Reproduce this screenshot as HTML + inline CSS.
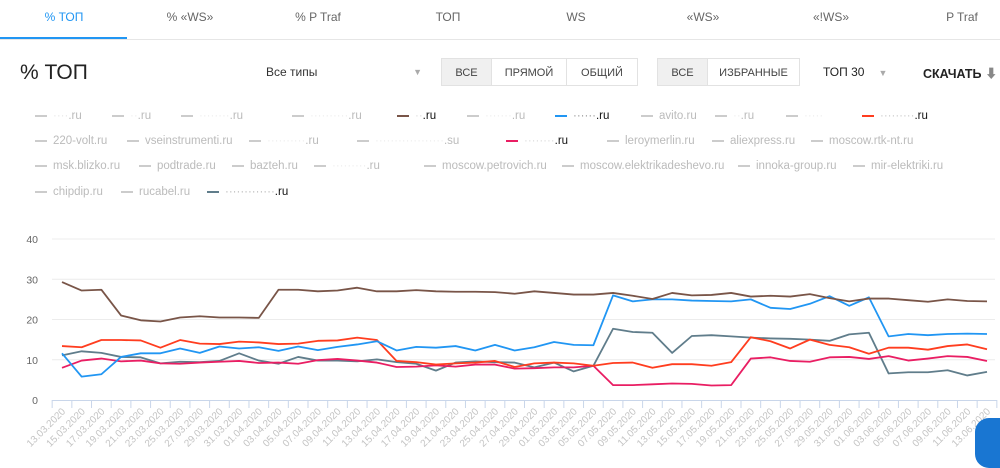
<!DOCTYPE html>
<html><head><meta charset="utf-8"><style>
body{margin:0;width:1000px;height:453px;overflow:hidden;background:#fff;font-family:"Liberation Sans","Noto Sans CJK SC",sans-serif;position:relative}
.tab{position:absolute;top:10px;width:128px;text-align:center;font-size:12px;color:#666}
.btn{position:absolute;top:58px;height:28px;line-height:28px;font-size:11px;color:#444;text-align:center;border:1px solid #e2e2e2;box-sizing:border-box}
.lg{position:absolute;font-size:11.5px;color:#bbb;white-space:nowrap}
.lg i{display:inline-block;width:12px;height:2px;background:#ccc;vertical-align:middle;margin-right:6px}
</style></head><body>
<div>
<div class="tab" style="left:0;color:#2196f3">% ТОП</div>
<div class="tab" style="left:126px">% «WS»</div>
<div class="tab" style="left:254px">% P Traf</div>
<div class="tab" style="left:384px">ТОП</div>
<div class="tab" style="left:512px">WS</div>
<div class="tab" style="left:639px">«WS»</div>
<div class="tab" style="left:767px">«!WS»</div>
<div class="tab" style="left:898px">P Traf</div>
<div style="position:absolute;left:0;top:37px;width:127px;height:2px;background:#2196f3"></div>
<div style="position:absolute;left:0;top:39px;width:1000px;height:1px;background:#e6e6e6"></div>
</div>
<div style="position:absolute;left:20px;top:61px;font-size:21px;color:#222">% ТОП</div>
<div style="position:absolute;left:266px;top:65px;width:156px;font-size:12px;color:#333">Все типы<span style="position:absolute;right:0;color:#aaa;font-size:9px;top:2px">▼</span></div>
<div class="btn" style="left:441px;width:51px;background:#f0f0f0">ВСЕ</div>
<div class="btn" style="left:491px;width:76px">ПРЯМОЙ</div>
<div class="btn" style="left:566px;width:72px">ОБЩИЙ</div>
<div class="btn" style="left:657px;width:51px;background:#f0f0f0">ВСЕ</div>
<div class="btn" style="left:707px;width:93px">ИЗБРАННЫЕ</div>
<div style="position:absolute;left:823px;top:65px;font-size:12px;color:#222">ТОП 30<span style="color:#aaa;font-size:9px;margin-left:14px">▼</span></div>
<div style="position:absolute;left:923px;top:63px;font-size:12.5px;font-weight:bold;color:#222">СКАЧАТЬ <span style="color:#888">⬇</span></div>

<div>
<div class="lg" style="left:35px;top:110px"><i></i><span style="color:#e8e8e8">····</span>.ru</div>
<div class="lg" style="left:112px;top:110px"><i></i><span style="color:#eee">··</span>.ru</div>
<div class="lg" style="left:181px;top:110px"><i></i><span style="color:#eee">········</span>.ru</div>
<div class="lg" style="left:292px;top:110px"><i></i><span style="color:#eee">··········</span>.ru</div>
<div class="lg" style="left:397px;top:110px;color:#111"><i style="background:#795548"></i><span style="color:#ddd">··</span>.ru</div>
<div class="lg" style="left:467px;top:110px"><i></i><span style="color:#eee">·······</span>.ru</div>
<div class="lg" style="left:555px;top:110px;color:#111"><i style="background:#2196f3"></i><span style="color:#999">······</span>.ru</div>
<div class="lg" style="left:641px;top:110px"><i></i>avito.ru</div>
<div class="lg" style="left:715px;top:110px"><i></i><span style="color:#eee">··</span>.ru</div>
<div class="lg" style="left:786px;top:110px"><i></i><span style="color:#eee">·····</span></div>
<div class="lg" style="left:862px;top:110px;color:#111"><i style="background:#ff3d1f"></i><span style="color:#ccc">·········</span>.ru</div>

<div class="lg" style="left:35px;top:135px"><i></i>220-volt.ru</div>
<div class="lg" style="left:127px;top:135px"><i></i>vseinstrumenti.ru</div>
<div class="lg" style="left:249px;top:135px"><i></i><span style="color:#eee">··········</span>.ru</div>
<div class="lg" style="left:357px;top:135px"><i></i><span style="color:#eee">··················</span>.su</div>
<div class="lg" style="left:506px;top:135px;color:#111"><i style="background:#e91e63"></i><span style="color:#ddd">········</span>.ru</div>
<div class="lg" style="left:607px;top:135px"><i></i>leroymerlin.ru</div>
<div class="lg" style="left:712px;top:135px"><i></i>aliexpress.ru</div>
<div class="lg" style="left:811px;top:135px"><i></i>moscow.rtk-nt.ru</div>

<div class="lg" style="left:35px;top:160px"><i></i>msk.blizko.ru</div>
<div class="lg" style="left:139px;top:160px"><i></i>podtrade.ru</div>
<div class="lg" style="left:232px;top:160px"><i></i>bazteh.ru</div>
<div class="lg" style="left:314px;top:160px"><i></i><span style="color:#eee">·········</span>.ru</div>
<div class="lg" style="left:424px;top:160px"><i></i>moscow.petrovich.ru</div>
<div class="lg" style="left:562px;top:160px"><i></i>moscow.elektrikadeshevo.ru</div>
<div class="lg" style="left:738px;top:160px"><i></i>innoka-group.ru</div>
<div class="lg" style="left:853px;top:160px"><i></i>mir-elektriki.ru</div>

<div class="lg" style="left:35px;top:186px"><i></i>chipdip.ru</div>
<div class="lg" style="left:121px;top:186px"><i></i>rucabel.ru</div>
<div class="lg" style="left:207px;top:186px;color:#111"><i style="background:#607d8b"></i><span style="color:#bbb">·············</span>.ru</div>
</div>

<svg id="chart" width="1000" height="453" style="position:absolute;left:0;top:0" xmlns="http://www.w3.org/2000/svg"></svg>
<div style="position:absolute;left:975px;top:418px;width:50px;height:50px;border-radius:14px;background:#1976d2"></div>

<script>
const dates=["13.03.2020","15.03.2020","17.03.2020","19.03.2020","21.03.2020","23.03.2020","25.03.2020","27.03.2020","29.03.2020","31.03.2020","01.04.2020","03.04.2020","05.04.2020","07.04.2020","09.04.2020","11.04.2020","13.04.2020","15.04.2020","17.04.2020","19.04.2020","21.04.2020","23.04.2020","25.04.2020","27.04.2020","29.04.2020","01.05.2020","03.05.2020","05.05.2020","07.05.2020","09.05.2020","11.05.2020","13.05.2020","15.05.2020","17.05.2020","19.05.2020","21.05.2020","23.05.2020","25.05.2020","27.05.2020","29.05.2020","31.05.2020","01.06.2020","03.06.2020","05.06.2020","07.06.2020","09.06.2020","11.06.2020","13.06.2020"];
const yTicks=[0,10,20,30,40];
const brownVals=[29.3,27.2,27.4,21,19.8,19.5,20.5,20.8,20.5,20.5,20.4,27.4,27.4,27,27.2,27.9,27,27,27.3,27,26.9,26.9,26.8,26.4,27,26.6,26.2,26.2,26.6,25.9,25.1,26.6,26,26.1,26.6,25.7,25.9,25.7,26.3,25.3,24.5,25.2,25.2,24.8,24.4,25,24.6,24.5];
const blueVals=[11.6,5.8,6.4,10.7,11.6,11.6,12.8,11.7,13.3,12.8,13.1,12.2,13.3,12.4,13.2,13.8,14.6,12.3,13.2,13,13.4,12.3,13.7,12.3,13.1,14.4,13.7,13.6,26,24.5,25,25,24.7,24.6,24.5,25,22.9,22.6,23.9,25.8,23.4,25.5,15.8,16.4,16.1,16.4,16.5,16.4];
const redVals=[13.4,13.1,14.9,14.9,14.8,13,14.9,14,13.9,14.5,14.3,13.9,14,14.7,14.8,15.5,14.9,9.7,9.4,8.8,9.1,9.3,9.7,8.2,9.1,9.3,9.1,8.5,9.2,9.3,8,8.9,8.9,8.5,9.4,15.6,14.6,12.8,15,13.7,13.1,11.5,13,13,12.5,13.4,13.8,12.6];
const pinkVals=[8,9.8,10.3,9.6,9.8,9.1,9,9.3,9.5,9.7,9.2,9.3,9,9.9,10.2,9.8,9.3,8.2,8.3,8.6,8.3,8.8,8.8,7.8,7.9,8.1,8.1,8.5,3.7,3.7,3.9,4.1,4,3.6,3.7,10.3,10.6,9.7,9.5,10.6,10.7,10.2,10.9,9.8,10.3,10.9,10.7,9.7];
const grayVals=[11.1,12.1,11.7,10.7,10.6,9.1,9.5,9.4,9.7,11.6,9.8,9,10.7,9.8,9.8,9.6,10.1,9.4,9,7.3,9.3,9.6,9.4,9.3,8.1,9.3,7.1,8.5,17.7,16.9,16.7,11.7,15.9,16.1,15.8,15.5,15.3,15.2,15,14.7,16.3,16.7,6.6,6.9,6.9,7.4,6.1,7];
const NS="http://www.w3.org/2000/svg";
const svg=document.getElementById('chart');
const x0=62,x1=987,yBase=400,yTop=239,yMax=40;
const xs=i=>x0+(x1-x0)*i/(dates.length-1);
const ys=v=>yBase-(yBase-yTop)*v/yMax;
function mk(t,a){const e=document.createElementNS(NS,t);for(const k in a)e.setAttribute(k,a[k]);svg.appendChild(e);return e;}
yTicks.forEach(t=>{
  if(t>0){const g=mk('line',{x1:52,x2:995,y1:ys(t),y2:ys(t),stroke:'#ececec','stroke-width':1});
  
  }
  const l=mk('text',{x:38,y:ys(t)+4,'text-anchor':'end','font-size':10.5,fill:'#666','font-family':'Liberation Sans, sans-serif'});
  l.textContent=t;
  
  
});
const ax=mk('line',{x1:52,x2:997,y1:yBase+0.5,y2:yBase+0.5,stroke:'#c9d6ea','stroke-width':1});


const step=(x1-x0)/(dates.length-1);
for(let i=0;i<=dates.length;i++){
  const tk=mk('line',{x1:x0-step/2+i*step,x2:x0-step/2+i*step,y1:yBase,y2:yBase+8,stroke:'#c9d6ea'});
  
  
}
dates.forEach((d,i)=>{
  const t=mk('text',{x:xs(i)+4,y:yBase+12,'text-anchor':'end','font-size':10,fill:'#c4c4c4','font-family':'Liberation Sans, sans-serif',transform:`rotate(-45 ${xs(i)+4} ${yBase+12})`});
  t.textContent=d;
  
  
});
function series(vals,color,name){
  const p=mk('polyline',{points:vals.map((v,i)=>xs(i)+','+ys(v)).join(' '),fill:'none',stroke:color,'stroke-width':1.8,'stroke-linejoin':'round'});
  
  
}
series(grayVals,'#607d8b','series-gray');
series(pinkVals,'#e91e63','series-pink');
series(redVals,'#ff3d1f','series-red');
series(blueVals,'#2196f3','series-blue');
series(brownVals,'#795548','series-brown');
</script>
</body></html>
